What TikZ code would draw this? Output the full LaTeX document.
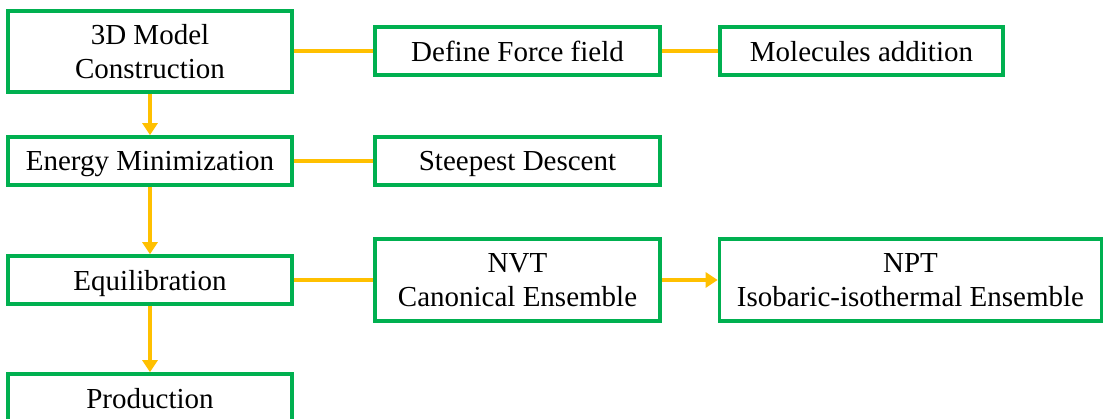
\documentclass[tikz,border=0pt]{standalone}
\usepackage{fontspec}
\setmainfont{Liberation Serif}
\usetikzlibrary{arrows.meta}
\definecolor{boxgreen}{HTML}{00B050}
\definecolor{linkorange}{HTML}{FFC000}
\begin{document}
\begin{tikzpicture}[x=1pt,y=-1pt,
  box/.style={draw=boxgreen, line width=3.6pt, fill=white, align=center,
    inner sep=0pt, font=\fontsize{29}{34}\selectfont},
  single/.style={box, minimum height=48pt, text depth=0pt},
  double/.style={box, minimum height=82pt, text depth=0pt},
  link/.style={draw=linkorange, line width=3.6pt},
  flow/.style={link, -{Triangle[length=12pt,width=15pt]}}]
\useasboundingbox (0,0) rectangle (1103,419);
\clip (0,0) rectangle (1103,419);

% main pipeline
\node[double, minimum width=284pt, minimum height=81pt] (model) at (150,51.5) {3D Model\\Construction};
\node[single, minimum width=284pt] (emin) at (150,161) {Energy Minimization};
\node[single, minimum width=284pt] (equil) at (150,280) {Equilibration};
\node[single, minimum width=284pt] (prod) at (150,398) {Production};

% side steps
\node[single, minimum width=285pt] (ff) at (517.5,51) {Define Force field};
\node[single, minimum width=283pt] (mol) at (861.5,51) {Molecules addition};
\node[single, minimum width=285pt] (sd) at (517.5,161) {Steepest Descent};
\node[double, minimum width=285pt] (nvt) at (517.5,280) {NVT\\Canonical Ensemble};
\node[double, minimum width=382pt] (npt) at (910.5,280) {NPT\\Isobaric-isothermal Ensemble};

% connectors
\draw[flow] (model.south) -- (emin.north);
\draw[flow] (emin.south) -- (equil.north);
\draw[flow] (equil.south) -- (prod.north);
\draw[link] (model.east |- ff.west) -- (ff.west);
\draw[link] (ff.east) -- (mol.west);
\draw[link] (emin.east) -- (sd.west);
\draw[link] (equil.east) -- (nvt.west);
\draw[flow] (nvt.east) -- (npt.west);
\end{tikzpicture}
\end{document}
